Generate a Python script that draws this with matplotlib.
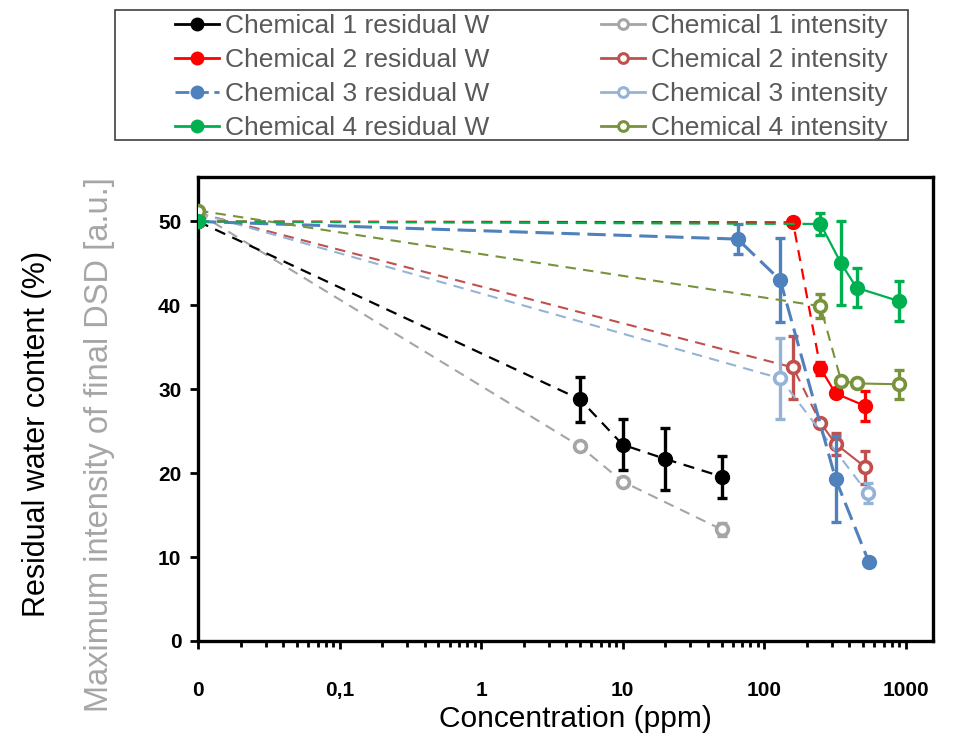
import matplotlib
matplotlib.use("Agg")
import matplotlib.pyplot as plt
from matplotlib.lines import Line2D
from matplotlib.patches import Rectangle
from matplotlib.ticker import FixedLocator, LogLocator, NullFormatter

# ---------------- data ----------------
X_ZERO = 0.01  # position used for the "0" concentration on the log axis

c1_res_x = [0, 5, 10, 20, 50]
c1_res_y = [50.0, 28.8, 23.4, 21.7, 19.6]
c1_res_e = [0, 2.7, 3.0, 3.7, 2.5]

c1_int_x = [0, 5, 10, 50]
c1_int_y = [51.0, 23.2, 19.0, 13.3]
c1_int_e = [0, 0, 0, 0.8]

c2_res_x = [0, 160, 250, 320, 520]
c2_res_y = [50.0, 49.9, 32.5, 29.5, 28.0]
c2_res_e = [0, 0, 0.8, 0, 1.8]

c2_int_x = [0, 160, 250, 320, 520]
c2_int_y = [51.0, 32.6, 26.0, 23.5, 20.7]
c2_int_e = [0, 3.7, 0, 1.3, 2.0]

c3_res_x = [0, 65, 130, 320, 550]
c3_res_y = [50.0, 47.9, 43.0, 19.3, 9.4]
c3_res_e = [0, 1.8, 5.0, 5.1, 0]

c3_int_x = [0, 130, 540]
c3_int_y = [51.0, 31.3, 17.6]
c3_int_e = [0, 4.8, 1.2]

c4_res_x = [0, 250, 350, 450, 900]
c4_res_y = [50.0, 49.7, 45.0, 42.1, 40.5]
c4_res_e = [0, 1.3, 5.0, 2.3, 2.4]

c4_int_x = [0, 250, 350, 450, 890]
c4_int_y = [51.3, 39.9, 31.0, 30.7, 30.6]
c4_int_e = [0, 1.4, 0, 0, 1.7]

labels_res = ["Chemical 1 residual W", "Chemical 2 residual W",
              "Chemical 3 residual W", "Chemical 4 residual W"]
labels_int = ["Chemical 1 intensity", "Chemical 2 intensity",
              "Chemical 3 intensity", "Chemical 4 intensity"]

x_ticks = [0.01, 0.1, 1, 10, 100, 1000]
x_ticklabels = ["0", "0,1", "1", "10", "100", "1000"]
y_ticks = [0, 10, 20, 30, 40, 50]

# ---------------- styles ----------------
col_res = ["#000000", "#FF0000", "#4F81BD", "#00B050"]
col_int = ["#A5A5A5", "#C0504D", "#95B3D7", "#77933C"]

plt.rcParams['font.family'] = ['Liberation Sans', 'DejaVu Sans']

fig = plt.figure(figsize=(9.65, 7.44), dpi=100)
ax = fig.add_axes([198/965, 1-641/744, (933-198)/965, (641-177)/744])


def xv(xs):
    return [X_ZERO if v == 0 else v for v in xs]


def draw(xs, ys, es, color, filled, n_dashed, lw, dashes, z):
    x = xv(xs)
    n = len(x) - 1 if n_dashed is None else n_dashed
    ax.plot(x[:n+1], ys[:n+1], color=color, lw=lw, ls=(0, dashes), zorder=z,
            solid_capstyle='butt', dash_capstyle='butt')
    if n < len(x) - 1:
        ax.plot(x[n:], ys[n:], color=color, lw=lw, ls='-', zorder=z)
    if filled:
        mk = dict(marker='o', ms=10, mfc=color, mec=color, mew=1)
    else:
        mk = dict(marker='o', ms=8.5, mfc='white', mec=color, mew=2.6)
    ax.errorbar(x, ys, yerr=es, fmt='none', ecolor=color, elinewidth=2.4,
                capsize=3.5, capthick=2.4, zorder=z+0.1)
    ax.plot(x, ys, ls='none', zorder=z+0.2, **mk)


short = (5, 3.5)
longd = (6, 2.5)

draw(c1_int_x, c1_int_y, c1_int_e, col_int[0], False, None, 1.5, short, 2)
draw(c2_int_x, c2_int_y, c2_int_e, col_int[1], False, 2, 1.5, short, 2.5)
draw(c3_int_x, c3_int_y, c3_int_e, col_int[2], False, None, 1.5, short, 3)
draw(c1_res_x, c1_res_y, c1_res_e, col_res[0], True, None, 1.6, short, 3.5)
draw(c2_res_x, c2_res_y, c2_res_e, col_res[1], True, 2, 1.6, short, 4)
draw(c3_res_x, c3_res_y, c3_res_e, col_res[2], True, None, 2.2, longd, 4.5)
draw(c4_int_x, c4_int_y, c4_int_e, col_int[3], False, 2, 1.5, short, 5)
draw(c4_res_x, c4_res_y, c4_res_e, col_res[3], True, 1, 1.6, short, 5.5)

ax.set_xscale('log')
ax.set_xlim(0.01, 1560)
ax.set_ylim(0, 55.3)
ax.xaxis.set_major_locator(FixedLocator(x_ticks))
ax.set_xticklabels(x_ticklabels)
ax.xaxis.set_minor_locator(LogLocator(base=10, subs=range(2, 10)))
ax.xaxis.set_minor_formatter(NullFormatter())
ax.set_yticks(y_ticks)
ax.tick_params(axis='both', which='major', direction='out', length=6, width=2,
               labelsize=15, pad=6)
ax.tick_params(axis='x', which='minor', direction='out', length=4, width=2)
ax.tick_params(axis='x', pad=23)
for lab in ax.get_xticklabels() + ax.get_yticklabels():
    lab.set_fontweight('bold')
for sp in ax.spines.values():
    sp.set_linewidth(2.4)
    sp.set_color('black')

fig.text(575/965, 1-719/744, "Concentration (ppm)", fontsize=21.5,
         ha='center', va='center', color='black')
fig.text(37/965, 1-434/744, "Residual water content (%)", rotation=90,
         fontsize=22, ha='center', va='center', color='black')
fig.text(100/965, 1-445/744, "Maximum intensity of final DSD [a.u.]",
         rotation=90, fontsize=23.5, ha='center', va='center', color='#A6A6A6')

# ---------------- legend ----------------
handles = []
for c in col_res:
    handles.append(Line2D([], [], color=c, lw=2, marker='o', ms=9, mfc=c, mec=c))
for c in col_int:
    handles.append(Line2D([], [], color=c, lw=2, marker='o', ms=7, mfc='white',
                          mec=c, mew=2.2))
handles[2] = Line2D([], [], color=col_res[2], lw=2, ls=(0, (5, 2)), marker='o',
                    ms=9, mfc=col_res[2], mec=col_res[2])
leg = fig.legend(handles, labels_res + labels_int, ncol=2,
                 loc='upper left',
                 bbox_to_anchor=(171/965, 1-140/744, (892-171)/965, 130/744),
                 mode='expand', frameon=False, fontsize=19, handlelength=1.67,
                 handletextpad=0.23, labelspacing=0.38, borderaxespad=0,
                 borderpad=0.15)
for t in leg.get_texts():
    t.set_color('#595959')
fig.patches.append(Rectangle((115/965, 1-140/744), (908-115)/965, 130/744,
                             transform=fig.transFigure, fill=False,
                             edgecolor='#404040', lw=1.2))

fig.savefig("out.png", dpi=100)
